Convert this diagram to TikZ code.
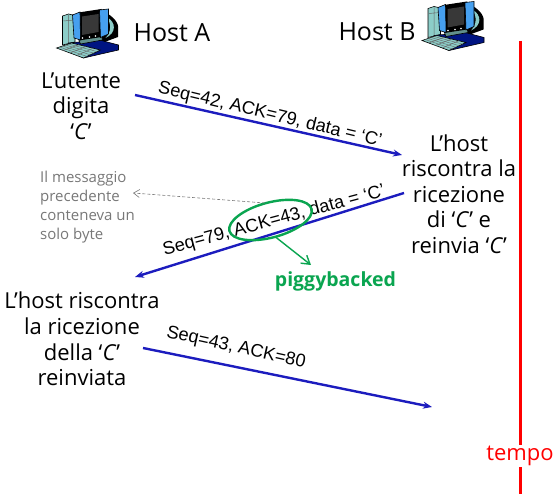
\documentclass[tikz,border=0pt]{standalone}
\usepackage{fontspec}
\setmainfont{Open Sans}
\newfontfamily\lab{Liberation Sans}
\usetikzlibrary{arrows.meta,calc,shapes.geometric}
\definecolor{arrowblue}{RGB}{28,28,190}
\definecolor{grn}{RGB}{10,165,80}
\definecolor{graytxt}{RGB}{120,120,120}
\definecolor{teal1}{RGB}{140,205,200}
\definecolor{navy1}{RGB}{0,20,130}
\definecolor{sky1}{RGB}{70,160,240}
\tikzset{
  x=1pt,y=-1pt,
  hosttext/.style={font=\fontsize{25}{28}\selectfont,inner sep=0pt,anchor=center},
  says/.style={font=\fontsize{22}{25.6}\selectfont,align=center,inner sep=0pt},
  note/.style={font=\fontsize{15}{19.3}\selectfont,align=left,text=graytxt,inner sep=0pt},
  seg/.style={font=\lab\fontsize{18.2}{20}\selectfont,inner sep=0pt},
  msg/.style={draw=arrowblue,line width=2.4pt,-{Stealth[length=9pt,width=7pt]}},
  tp/.style={line width=.6pt,draw=black},
  pics/computer/.style={code={
    % monitor back
    \fill[black] (44,1) .. controls (54,5) and (61,12) .. (61.5,17) -- (61.5,28) -- (48,33) -- (30,33) -- (30,10) -- cycle;
    \fill[teal1] (50,8) .. controls (60,13) and (60,24) .. (49,29) .. controls (55,23) and (55,14) .. (50,8) -- cycle;
    % tower
    \fill[teal1,tp] (6,7) -- (12,5) -- (18.5,6.5) -- (18.5,33) -- (6,36) -- cycle;
    \draw[black!60,line width=.5pt] (12,6) -- (12,34) (7,12) -- (18,11);
    % base
    \fill[navy1,tp] (12,34) -- (43,31) -- (62,36) -- (62,41) -- (27,49) -- (12,42) -- cycle;
    % monitor stand
    \fill[teal1!70!black,tp] (22,30) -- (45,27) -- (46,31) -- (24,35) -- cycle;
    % monitor front
    \fill[black] (22,3.5) -- (45,0) -- (45,28) -- (22,31.5) -- cycle;
    \fill[sky1,tp] (16,6) -- (23.5,3) -- (24,31) -- (17.5,29) -- cycle;
    \fill[sky1,tp] (43,1) -- (52,0) -- (52,25) -- (44,28.5) -- cycle;
    \fill[black!78] (25.5,7.5) -- (42,5) -- (42,23) -- (25.5,26) -- cycle;
    \fill[white] (26,29) circle (.8) (33,28) circle (.8) (39,27) circle (.8);
    % keyboard
    \fill[teal1,tp] (0,39) -- (15,34) -- (44,41) -- (27,49) -- cycle;
    \foreach \t in {.25,.5,.75}
      \draw[black!60,line width=.5pt] ($(0,39)!\t!(27,49)$) -- ($(15,34)!\t!(44,41)$);
    \foreach \t in {.2,.4,.6,.8}
      \draw[black!60,line width=.4pt] ($(0,39)!\t!(15,34)$) -- ($(27,49)!\t!(44,41)$);
  }},
}
\begin{document}
\begin{tikzpicture}
\useasboundingbox (0,0) rectangle (555,494);
\fill[white] (0,0) rectangle (555,494);

\pic at (56.5,9) {computer};
\pic at (422,1.5) {computer};
\node[hosttext] (hostA) at (172,33) {Host A};
\node[hosttext] (hostB) at (377,32) {Host B};

\node[says] (utente) at (81,106) {L’utente\\digita\\‘\textit{C}’};
\node[says] (riscontra) at (459,194) {L’host\\riscontra la\\ricezione\\di ‘\textit{C}’ e\\reinvia ‘\textit{C}’};
\node[says] (reinviata) at (82,339) {L’host riscontra\\la ricezione\\della ‘\textit{C}’\\reinviata};
\node[note,anchor=north west] (nota) at (40,170.5) {Il messaggio\\precedente\\conteneva un\\solo byte};

\coordinate (a1) at (135,95);
\coordinate (b1) at (402,155);
\coordinate (b2) at (404,193);
\coordinate (a2) at (135,277);
\coordinate (a3) at (143,348);
\coordinate (b3) at (432,407);
\draw[msg] (a1) -- (b1);
\draw[msg] (b2) -- (a2);
\draw[msg] (a3) -- (b3);

\node[seg,rotate=-13.5] (s1) at (270,115) {Seq=42, ACK=79, data = ‘C’};
\node[seg,rotate=15] (s2) at (274,221) {Seq=79, ACK=43, data = ‘C’};
\node[seg,rotate=-12.5] (s3) at (236,348) {Seq=43, ACK=80};

\node[draw=grn,line width=2.4pt,ellipse,rotate=15,minimum width=85pt,minimum height=35pt,inner sep=0pt] (cerchio) at (270.5,220) {};
\node[font=\bfseries\fontsize{19.5}{24}\selectfont,text=grn,inner sep=0pt] (piggy) at (335.5,281) {piggybacked};
\coordinate (pg) at (311,265);
\draw[grn,line width=1.4pt,-{Straight Barb[length=8pt,width=10pt]}] (cerchio) ++(5,17) -- (pg);

\coordinate (gs) at (265,203);
\coordinate (ge) at (133,193);
\draw[graytxt,densely dashed,line width=.6pt,-{Straight Barb[length=6pt,width=8pt]}] (gs) -- (ge);

\coordinate (t1) at (520.5,41);
\coordinate (t2) at (520.5,494);
\draw[red,line width=2.2pt] (t1) -- (t2);
\node[font=\fontsize{22}{24}\selectfont,text=red,fill=white,inner sep=1pt] (tempo) at (520,456) {tempo};
\end{tikzpicture}
\end{document}
